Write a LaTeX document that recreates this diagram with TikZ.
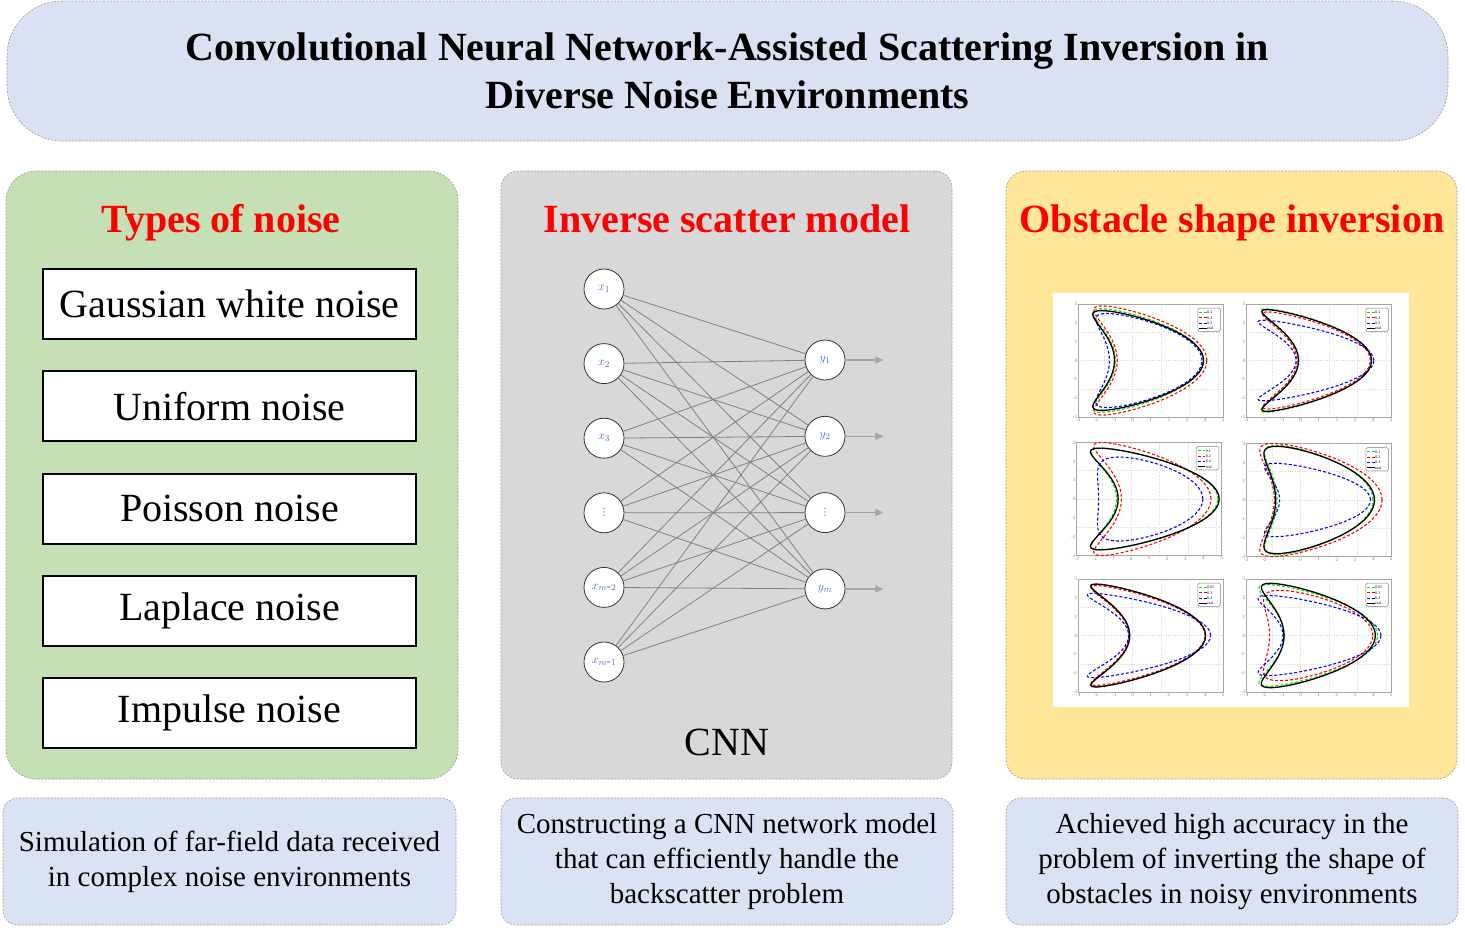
\documentclass[tikz,border=0pt]{standalone}
\usepackage{fontspec}
\setmainfont{Liberation Serif}
\newfontfamily\dotsfont{DejaVu Sans}
\usetikzlibrary{positioning,arrows.meta}

\definecolor{titleblue}{RGB}{218,225,243}
\definecolor{noteblue}{RGB}{218,227,243}
\definecolor{noisegreen}{RGB}{197,224,180}
\definecolor{modelgray}{RGB}{216,216,216}
\definecolor{shapeyellow}{RGB}{255,230,153}
\definecolor{labelblue}{RGB}{68,114,196}
\definecolor{edgegray}{RGB}{128,128,128}
\definecolor{outgray}{RGB}{165,165,165}
\definecolor{realgreen}{RGB}{0,230,0}

% one kite shaped boundary: right tip, inner dent, tip x, height
\newcommand{\kite}[5][]{%
  \pgfmathsetmacro\kA{(#2-(#3))/2}%
  \pgfmathsetmacro\kB{(#2+(#3))/2}%
  \pgfmathsetmacro\kK{((\kB-(#4))+sqrt((\kB-(#4))^2-(\kA)^2))/4}%
  \draw[#1] plot[domain=0:360,samples=73,smooth]
    ({\kA*cos(\x)+\kK*(cos(2*\x)-1)+\kB},{#5*sin(\x)});}

% one small plot, origin given in pixels
\newcommand{\shapeplot}[3]{%
  \begin{scope}[shift={(#1pt,-#2pt)},x=18.1pt,y=18.83pt]
    \draw[gridline] (-3,-3) grid (5,3);
    \draw[axisbox] (-3,-3) rectangle (5,3);
    \foreach \t in {-3,...,5} \node[tick,below] at (\t,-3) {\t};
    \foreach \t in {-3,...,3} \node[tick,left] at (-3,\t) {\t};
    #3
  \end{scope}}

\newcommand{\shapelegend}[3]{%
  \draw[gray,fill=white,rounded corners=1.5pt,line width=0.5pt] (3.6,1.55) rectangle (4.85,2.78);
  \draw[noiseA,line width=1pt] (3.68,2.55) -- (4.1,2.55);
  \draw[noiseB,line width=1pt] (3.68,2.27) -- (4.1,2.27);
  \draw[noiseC,line width=1pt] (3.68,1.99) -- (4.1,1.99);
  \draw[real,line width=1pt] (3.68,1.71) -- (4.1,1.71);
  \node[legtext] at (4.12,2.55) {#1};
  \node[legtext] at (4.12,2.27) {#2};
  \node[legtext] at (4.12,1.99) {#3};
  \node[legtext] at (4.12,1.71) {real};}

\tikzset{
  panel/.style={draw=gray!80, dash pattern=on 2pt off 1.5pt, line width=0.6pt},
  heading/.style={text=red, font=\fontsize{40}{48}\selectfont\bfseries, anchor=base},
  noisebox/.style={draw, fill=white, line width=2pt, minimum width=373pt, minimum height=70pt,
    font=\fontsize{40}{48}\selectfont},
  note/.style={panel, fill=noteblue, rounded corners=15pt, minimum height=127pt,
    align=center, font=\fontsize{29}{35}\selectfont},
  neuron/.style={circle, draw=gray!40!black, fill=white, line width=0.8pt, minimum size=40pt,
    inner sep=0pt, text=labelblue, font=\fontsize{13}{14}\selectfont},
  link/.style={edgegray, line width=0.8pt},
  outarrow/.style={outgray, line width=1.2pt, -{Triangle[length=8pt,width=7pt]}},
  gridline/.style={gray!30, line width=0.3pt, dotted},
  axisbox/.style={gray!70, line width=0.6pt},
  tick/.style={text=gray, font=\fontsize{5}{6}\selectfont, inner sep=1pt},
  legtext/.style={anchor=west, font=\fontsize{4}{5}\selectfont, inner sep=0pt},
  noiseA/.style={realgreen, line width=1.1pt, dash pattern=on 3pt off 2pt},
  noiseB/.style={red, line width=1.1pt, dash pattern=on 3pt off 2pt},
  noiseC/.style={blue, line width=1.1pt, dash pattern=on 3pt off 2pt},
  real/.style={black, line width=1.3pt}
}

\begin{document}
\begin{tikzpicture}[x=1pt,y=-1pt]
  \useasboundingbox (0,0) rectangle (1465,927);

  % title
  \node[panel, fill=titleblue, rounded corners=55pt, minimum width=1441pt, minimum height=140pt,
    align=center, font=\fontsize{40}{48}\selectfont\bfseries] (title) at (727.5,71)
    {Convolutional Neural Network-Assisted Scattering Inversion in\\Diverse Noise Environments};

  % three panels
  \node[panel, fill=noisegreen, rounded corners=30pt, minimum width=452pt, minimum height=608pt] (noise) at (232,475) {};
  \node[panel, fill=modelgray, rounded corners=17pt, minimum width=451pt, minimum height=608pt] (model) at (726.5,475) {};
  \node[panel, fill=shapeyellow, rounded corners=20pt, minimum width=451pt, minimum height=608pt] (shape) at (1231.5,475) {};

  \node[heading] (noisehead) at (221,232) {Types of noise};
  \node[heading] (modelhead) at (727,232) {Inverse scatter model};
  \node[heading] (shapehead) at (1232,232) {Obstacle shape inversion};

  % noise types
  \node[noisebox] (gauss) at (229.5,304) {Gaussian white noise};
  \node[noisebox, below=30.25pt of gauss] (uniform) {Uniform noise};
  \node[noisebox, below=30.25pt of uniform] (poisson) {Poisson noise};
  \node[noisebox, below=30.25pt of poisson] (laplace) {Laplace noise};
  \node[noisebox, below=30.25pt of laplace] (impulse) {Impulse noise};

  % network
  \node[neuron] (x1) at (604,289) {$x_1$};
  \node[neuron, below=33.8pt of x1] (x2) {$x_2$};
  \node[neuron, below=33.8pt of x2] (x3) {$x_3$};
  \node[neuron, below=33.8pt of x3] (x4) {\dotsfont\fontsize{10}{12}\selectfont ⋮};
  \node[neuron, below=33.8pt of x4] (x5) {$x_{m\mbox{-}2}$};
  \node[neuron, below=33.8pt of x5] (x6) {$x_{m\mbox{-}1}$};
  \node[neuron] (y1) at (825,360) {$y_1$};
  \node[neuron, below=35.5pt of y1] (y2) {$y_2$};
  \node[neuron, below=35.5pt of y2] (y3) {\dotsfont\fontsize{10}{12}\selectfont ⋮};
  \node[neuron, below=35.5pt of y3] (y4) {$y_m$};

  \foreach \i in {1,...,6}
    \foreach \j in {1,...,4}
      \draw[link] (x\i) -- (y\j);

  \foreach \j in {1,...,4} {
    \coordinate[right=38pt of y\j] (o\j);
    \draw[outarrow] (y\j) -- (o\j);
  }

  \node[font=\fontsize{40}{48}\selectfont] (cnn) at (727,742) {CNN};

  % reconstructed shapes
  \fill[white] (1053,293) rectangle (1409,707);
  \shapeplot{1132.6}{360.5}{%
    \kite[noiseA]{3.9}{-0.95}{-2.2}{2.75}
    \kite[noiseB]{4.1}{-0.85}{-2.15}{2.9}
    \kite[noiseC]{3.83}{-1.28}{-2.03}{2.5}
    \kite[real]{3.92}{-1.0}{-2.2}{2.65}
    \shapelegend{0.1}{0.2}{0.3}}
  \shapeplot{1300.6}{360.5}{%
    \kite[noiseA]{3.9}{-0.1}{-2.2}{2.75}
    \kite[noiseB]{3.85}{-0.2}{-2.1}{2.58}
    \kite[noiseC]{4.05}{-0.25}{-2.35}{2.14}
    \kite[real]{3.92}{-0.12}{-2.14}{2.7}
    \shapelegend{0.1}{0.2}{0.3}}
  \shapeplot{1131}{499}{%
    \kite[noiseA]{4.8}{-0.8}{-2.2}{2.7}
    \kite[noiseB]{4.42}{-0.53}{-2.06}{3.0}
    \kite[noiseC]{3.97}{-1.79}{-1.85}{2.23}
    \kite[real]{4.87}{-0.71}{-2.24}{2.7}
    \shapelegend{0.1}{0.2}{0.3}}
  \shapeplot{1300.6}{500}{%
    \kite[noiseA]{4.0}{-1.3}{-2.0}{2.9}
    \kite[noiseB]{4.5}{-1.45}{-2.26}{3.0}
    \kite[noiseC]{3.86}{-1.16}{-1.99}{1.95}
    \kite[real]{4.08}{-1.38}{-2.03}{2.85}
    \shapelegend{0.1}{0.2}{0.3}}
  \shapeplot{1132.6}{635.5}{%
    \kite[noiseA]{4.03}{-0.16}{-2.31}{2.73}
    \kite[noiseB]{4.0}{-0.2}{-2.3}{2.65}
    \kite[noiseC]{4.31}{-0.22}{-2.5}{2.24}
    \kite[real]{4.03}{-0.16}{-2.31}{2.73}
    \shapelegend{0.05}{0.1}{0.2}}
  \shapeplot{1300.6}{635.5}{%
    \kite[noiseA]{4.25}{-0.9}{-2.3}{2.7}
    \kite[noiseB]{3.99}{-1.71}{-2.05}{2.4}
    \kite[noiseC]{4.44}{-0.97}{-2.35}{2.13}
    \kite[real]{4.13}{-0.92}{-2.17}{2.77}
    \shapelegend{0.05}{0.1}{0.2}}

  % notes
  \node[note, minimum width=453pt] (simnote) at (229.5,861.5)
    {Simulation of far-field data received\\in complex noise environments};
  \node[note, minimum width=452pt] (cnnnote) at (727,861.5)
    {Constructing a CNN network model\\that can efficiently handle the\\backscatter problem};
  \node[note, minimum width=452pt] (shapenote) at (1232,861.5)
    {Achieved high accuracy in the\\problem of inverting the shape of\\obstacles in noisy environments};
\end{tikzpicture}
\end{document}
